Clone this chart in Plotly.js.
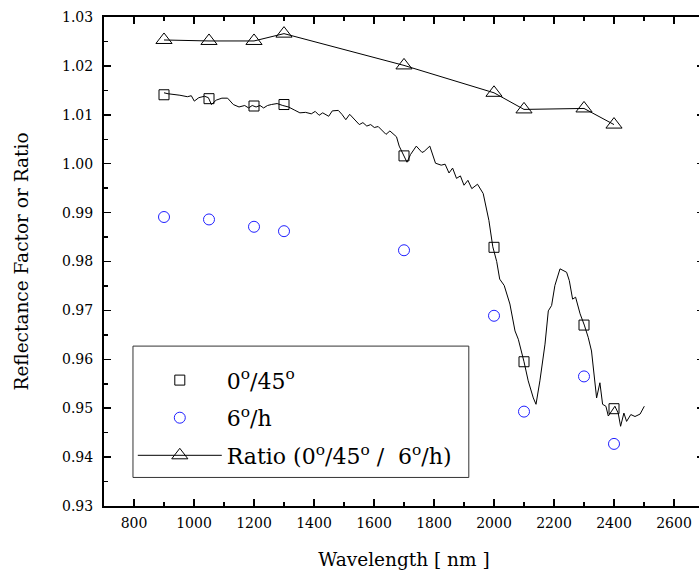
<!DOCTYPE html>
<html>
<head>
<meta charset="utf-8">
<script src="https://cdn.plot.ly/plotly-3.0.1.min.js"></script>
<style>
html, body { margin: 0; padding: 0; overflow: hidden; background: #fff; }
#chart { width: 705px; height: 574px; }
</style>
</head>
<body>
<div id="chart"></div>
<script>
// Measurement wavelengths (nm)
const wl = [900, 1050, 1200, 1300, 1700, 2000, 2100, 2300, 2400];
// 0°/45° reflectance factor
const r045 = [1.0141, 1.0133, 1.0118, 1.0121, 1.0016, 0.9829, 0.9595, 0.9670, 0.9499];
// 6°/h reflectance factor
const r6h = [0.9891, 0.9886, 0.9871, 0.9862, 0.9823, 0.9689, 0.9493, 0.9565, 0.9427];
// Ratio (0°/45° / 6°/h)
const ratio = [1.0253, 1.0251, 1.0251, 1.0266, 1.0201, 1.0145, 1.0111, 1.0113, 1.0080];

// Continuous spectrum of 0°/45° reflectance factor
const specX = [900, 914, 953, 978, 991, 1001, 1016, 1035, 1048, 1058, 1074, 1093, 1112, 1131, 1150, 1169, 1182, 1194, 1207, 1220, 1232, 1245, 1258, 1277, 1296, 1315, 1334, 1353, 1372, 1391, 1404, 1417, 1429, 1442, 1449, 1461, 1481, 1493, 1506, 1519, 1532, 1551, 1563, 1576, 1589, 1601, 1614, 1627, 1640, 1653, 1665, 1675, 1684, 1697, 1710, 1722, 1741, 1760, 1767, 1786, 1805, 1824, 1837, 1850, 1862, 1875, 1888, 1900, 1913, 1926, 1945, 1964, 1973, 1983, 1996, 2009, 2019, 2034, 2053, 2070, 2081, 2092, 2100, 2114, 2131, 2140, 2153, 2170, 2181, 2192, 2203, 2220, 2242, 2251, 2262, 2272, 2287, 2301, 2314, 2325, 2333, 2342, 2353, 2362, 2373, 2381, 2392, 2403, 2414, 2422, 2433, 2442, 2456, 2470, 2487, 2501];
const specY = [1.0145, 1.0143, 1.0140, 1.0137, 1.0139, 1.0128, 1.0135, 1.0138, 1.0135, 1.0121, 1.0130, 1.0134, 1.0134, 1.0121, 1.0116, 1.0119, 1.0114, 1.0119, 1.0116, 1.0119, 1.0114, 1.0119, 1.0121, 1.0123, 1.0119, 1.0116, 1.0110, 1.0104, 1.0105, 1.0102, 1.0107, 1.0099, 1.0104, 1.0099, 1.0097, 1.0108, 1.0109, 1.0101, 1.0090, 1.0101, 1.0092, 1.0080, 1.0084, 1.0077, 1.0080, 1.0074, 1.0076, 1.0067, 1.0060, 1.0067, 1.0060, 1.0055, 1.0036, 1.0018, 1.0003, 1.0019, 1.0036, 1.0023, 1.0025, 1.0036, 1.0001, 0.9997, 0.9999, 0.9981, 0.9991, 0.9970, 0.9975, 0.9956, 0.9966, 0.9949, 0.9958, 0.9939, 0.9912, 0.9884, 0.9830, 0.9800, 0.9764, 0.9751, 0.9713, 0.9658, 0.9641, 0.9617, 0.9595, 0.9556, 0.9521, 0.9508, 0.9556, 0.9631, 0.9699, 0.9710, 0.9751, 0.9785, 0.9778, 0.9761, 0.9723, 0.9727, 0.9693, 0.9670, 0.9645, 0.9617, 0.9576, 0.9521, 0.9552, 0.9508, 0.9504, 0.9484, 0.9494, 0.9504, 0.9490, 0.9463, 0.9490, 0.9473, 0.9487, 0.9483, 0.9488, 0.9504];

const serif = 'DejaVu Serif';

const traces = [
  {
    x: specX, y: specY, mode: 'lines', showlegend: false,
    line: {color: '#000', width: 1}, hoverinfo: 'skip'
  },
  {
    x: wl, y: r045, mode: 'markers', name: '0<sup>o</sup>/45<sup>o</sup>', legendgroup: 'a',
    marker: {symbol: 'square-open', size: 10, color: '#000', line: {width: 1}}
  },
  {
    x: wl, y: r6h, mode: 'markers', name: '6<sup>o</sup>/h', legendgroup: 'b',
    marker: {symbol: 'circle-open', size: 11, color: '#2020ff', line: {width: 1}}
  },
  {
    x: wl, y: ratio, mode: 'lines+markers', name: 'Ratio (0<sup>o</sup>/45<sup>o</sup> /  6<sup>o</sup>/h)', legendgroup: 'c',
    line: {color: '#000', width: 1},
    marker: {symbol: 'triangle-up-open', size: 14, color: '#000', line: {width: 1}}
  }
];

const axisCommon = {
  showline: true, linecolor: '#000', linewidth: 2, mirror: 'ticks',
  ticks: 'inside', ticklen: 7, tickwidth: 1.5, tickcolor: '#000',
  showgrid: false, zeroline: false,
  tickfont: {family: serif, size: 14, color: '#000'},
  minor: {ticks: 'inside', ticklen: 4, tickwidth: 1.5, tickcolor: '#000', showgrid: false}
};

const layout = {
  width: 705, height: 574,
  margin: {l: 104, r: 1, t: 17, b: 68},
  paper_bgcolor: '#fff', plot_bgcolor: '#fff',
  font: {family: serif, color: '#000'},
  xaxis: Object.assign({}, axisCommon, {
    range: [700, 2700], dtick: 200, tick0: 800, ticklabelstandoff: 3,
    minor: Object.assign({}, axisCommon.minor, {dtick: 100}),
    title: {text: 'Wavelength [ nm ]', font: {family: serif, size: 18.5, color: '#000'}, standoff: 23}
  }),
  yaxis: Object.assign({}, axisCommon, {
    range: [0.93, 1.03], dtick: 0.01, tick0: 0.93, tickformat: '.2f', ticklabelstandoff: 6,
    minor: Object.assign({}, axisCommon.minor, {dtick: 0.005}),
    title: {text: 'Reflectance Factor or Ratio', font: {family: serif, size: 18.5, color: '#000'}, standoff: 29}
  }),
  shapes: [{
    type: 'rect', xref: 'paper', yref: 'paper',
    x0: 0.0483, x1: 0.608, y0: 0.0584, y1: 0.327,
    line: {color: '#333', width: 1}, fillcolor: '#fff', layer: 'above'
  }],
  legend: {
    x: 0.048, y: 0.300, xanchor: 'left', yanchor: 'top',
    borderwidth: 0, bgcolor: 'rgba(0,0,0,0)',
    font: {family: serif, size: 22, color: '#000'},
    itemwidth: 84, tracegroupgap: 6, traceorder: 'grouped'
  },
  showlegend: true
};

Plotly.newPlot('chart', traces, layout, {displayModeBar: false, staticPlot: true});
</script>
</body>
</html>
